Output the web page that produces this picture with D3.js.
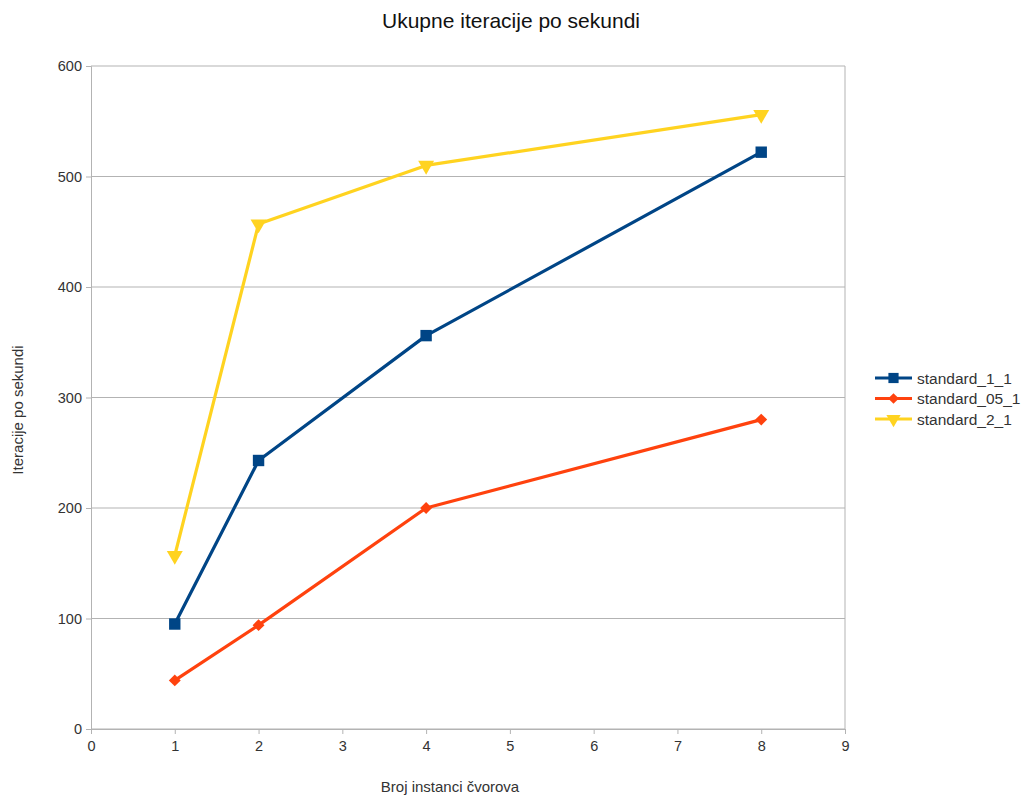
<!DOCTYPE html>
<html><head><meta charset="utf-8">
<script src="https://cdn.jsdelivr.net/npm/d3@7"></script>
<style>body{margin:0;background:#fff}svg{font-family:"Liberation Sans",Arial,sans-serif}</style>
</head><body>
<svg id="c" width="1027" height="796"></svg>
<script>
const xValues = [1, 2, 4, 8];
const standard_1_1 = [95, 243, 356, 522];
const standard_05_1 = [44, 94, 200, 280];
const standard_2_1 = [157, 457, 510, 556];
const seriesNames = ["standard_1_1", "standard_05_1", "standard_2_1"];
const seriesColors = ["#004586", "#ff420e", "#ffd320"];
const seriesShapes = ["square", "diamond", "triangle"];
const xTicks = [0,1,2,3,4,5,6,7,8,9];
const yTicks = [0,100,200,300,400,500,600];
const title = "Ukupne iteracije po sekundi";
const xTitle = "Broj instanci čvorova";
const yTitle = "Iteracije po sekundi";

const series = [standard_1_1, standard_05_1, standard_2_1];
const svg = d3.select("#c");
const L = 91, R = 845, T = 66, B = 729;
const x = d3.scaleLinear().domain([0,9]).range([L,R]);
const y = d3.scaleLinear().domain([0,600]).range([B,T]);

svg.append("g").selectAll("line").data(yTicks).join("line")
  .attr("x1", L).attr("x2", R).attr("y1", d=>y(d)).attr("y2", d=>y(d))
  .attr("stroke", "#b3b3b3").attr("stroke-width", 1);
svg.append("line").attr("x1", R).attr("x2", R).attr("y1", T).attr("y2", B).attr("stroke","#b3b3b3");

const xAxis = svg.append("g").attr("transform", `translate(0,${B})`)
  .call(d3.axisBottom(x).tickValues(xTicks).tickSize(5).tickPadding(7).tickFormat(d3.format("d")));
const yAxis = svg.append("g").attr("transform", `translate(${L},0)`)
  .call(d3.axisLeft(y).tickValues(yTicks).tickSize(5).tickPadding(4).tickFormat(d3.format("d")));
[xAxis, yAxis].forEach(a => {
  a.select(".domain").attr("stroke", "#b3b3b3");
  a.selectAll(".tick line").attr("stroke", "#b3b3b3");
  a.selectAll("text").attr("font-size", 14.5).attr("fill", "#333").attr("font-family", '"Liberation Sans",Arial,sans-serif');
});

function symFor(shape, size) {
  if (shape === "square") return d3.symbol(d3.symbolSquare, size)();
  if (shape === "diamond") return d3.symbol(d3.symbolDiamond2, size)();
  return d3.symbol(d3.symbolTriangle, size)();
}
const symSize = [130, 90, 110];

const line = d3.line().x(d=>x(d[0])).y(d=>y(d[1]));
series.forEach((s, i) => {
  const pts = xValues.map((xv, j) => [xv, s[j]]);
  svg.append("path").attr("d", line(pts)).attr("fill","none")
    .attr("stroke", seriesColors[i]).attr("stroke-width", 3.2).attr("stroke-linejoin","round");
  svg.append("g").selectAll("path").data(pts).join("path")
    .attr("d", symFor(seriesShapes[i], symSize[i]))
    .attr("transform", d => `translate(${x(d[0])},${y(d[1])})` + (seriesShapes[i]==="triangle" ? " rotate(180)" : ""))
    .attr("fill", seriesColors[i]);
});

svg.append("text").attr("x", 511).attr("y", 28).attr("text-anchor","middle")
  .attr("font-size", 21).attr("fill","#111").text(title);
svg.append("text").attr("x", 450).attr("y", 792).attr("text-anchor","middle")
  .attr("font-size", 15).attr("fill","#333").text(xTitle);
svg.append("text").attr("transform","translate(23,410) rotate(-90)").attr("text-anchor","middle")
  .attr("font-size", 15).attr("fill","#333").text(yTitle);

const lg = svg.append("g");
seriesNames.forEach((n, i) => {
  const ly = 378 + i * 20.5;
  lg.append("line").attr("x1", 875).attr("x2", 912).attr("y1", ly).attr("y2", ly)
    .attr("stroke", seriesColors[i]).attr("stroke-width", 3);
  lg.append("path").attr("d", symFor(seriesShapes[i], symSize[i]*0.8))
    .attr("transform", `translate(893.5,${ly})` + (seriesShapes[i]==="triangle" ? " rotate(180)" : ""))
    .attr("fill", seriesColors[i]);
  lg.append("text").attr("x", 917).attr("y", ly + 5.5).attr("font-size", 15.5).attr("fill","#333").text(n);
});
</script>
</body></html>
